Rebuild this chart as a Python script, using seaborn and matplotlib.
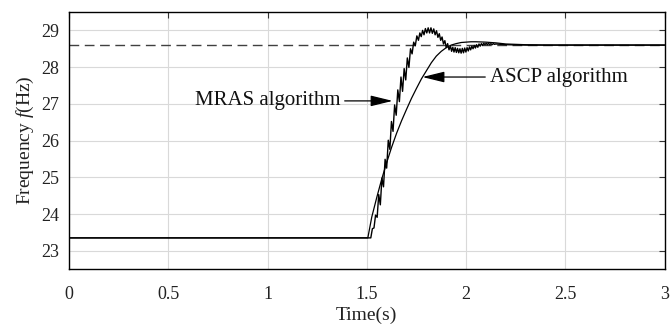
import numpy as np
import pandas as pd
import matplotlib
matplotlib.use("Agg")
import matplotlib.pyplot as plt
import seaborn as sns

# ---------------- data ----------------
ref_level = 28.6          # dashed reference frequency
x_ticks = [0, 0.5, 1, 1.5, 2, 2.5, 3]
x_tick_labels = ["0", "0.5", "1", "1.5", "2", "2.5", "3"]
y_ticks = [23, 24, 25, 26, 27, 28, 29]

ascp_t = [0.0, 1.500, 1.505, 1.525, 1.550, 1.575, 1.600, 1.625, 1.650, 1.675,
          1.700, 1.725, 1.750, 1.775, 1.800, 1.825, 1.850, 1.875, 1.900,
          1.925, 1.950, 1.975, 2.000, 2.025, 2.050, 2.100, 2.150, 2.200,
          2.300, 2.400, 3.0]
ascp_f = [23.35, 23.35, 23.35, 23.92, 24.45, 24.95, 25.40, 25.82, 26.20, 26.54,
          26.85, 27.15, 27.42, 27.68, 27.90, 28.12, 28.30, 28.43, 28.53,
          28.60, 28.64, 28.67, 28.68, 28.69, 28.69, 28.68, 28.66, 28.63,
          28.61, 28.60, 28.60]

mras_t = [0.0, 1.520, 1.528, 1.536, 1.544, 1.552, 1.560, 1.568, 1.576, 1.584,
          1.592, 1.600, 1.608, 1.616, 1.624, 1.632, 1.640, 1.648, 1.656,
          1.664, 1.672, 1.680, 1.688, 1.696, 1.704, 1.712, 1.720, 1.728,
          1.736, 1.744, 1.752, 1.760,
          1.767, 1.774, 1.781, 1.788, 1.795, 1.802, 1.809, 1.816, 1.823,
          1.830, 1.837, 1.844, 1.851, 1.858, 1.865, 1.872, 1.879, 1.886,
          1.893, 1.900, 1.907, 1.914, 1.921,
          1.927, 1.933, 1.939, 1.945, 1.951, 1.957, 1.963, 1.969, 1.975,
          1.981, 1.987, 1.993, 1.999, 2.005, 2.011, 2.017, 2.023, 2.029,
          2.035, 2.041, 2.047, 2.053, 2.059, 2.065, 2.071, 2.077, 2.083,
          2.089, 2.095, 2.101, 2.107, 2.113, 2.119, 2.125, 2.131, 2.137,
          2.143, 2.150, 2.200, 2.300, 3.0]
mras_f = [23.35, 23.35, 23.60, 23.62, 23.97, 23.91, 24.53, 24.25, 24.98, 24.74,
          25.49, 25.25, 26.01, 25.76, 26.52, 26.25, 26.97, 26.69, 27.38,
          27.06, 27.73, 27.34, 27.96, 27.65, 28.25, 27.99, 28.50, 28.36,
          28.68, 28.58, 28.85, 28.73,
          28.93, 28.83, 29.00, 28.88, 29.05, 28.93, 29.07, 28.93, 29.07,
          28.92, 29.04, 28.88, 28.99, 28.81, 28.91, 28.73, 28.82, 28.63,
          28.72, 28.53, 28.64, 28.47, 28.58,
          28.43, 28.54, 28.41, 28.53, 28.40, 28.51, 28.39, 28.50, 28.38,
          28.51, 28.39, 28.52, 28.41, 28.53, 28.44, 28.55, 28.47, 28.57,
          28.50, 28.59, 28.52, 28.61, 28.54, 28.63, 28.57, 28.64, 28.59,
          28.65, 28.61, 28.65, 28.61, 28.65, 28.61, 28.64, 28.61, 28.64,
          28.62, 28.63, 28.61, 28.60, 28.60]

ascp = pd.DataFrame({"t": ascp_t, "f": ascp_f})
mras = pd.DataFrame({"t": mras_t, "f": mras_f})

# ---------------- style ----------------
sns.set_style("white")
plt.rcParams["font.family"] = ["Liberation Serif", "DejaVu Serif"]
plt.rcParams["mathtext.fontset"] = "custom"
plt.rcParams["mathtext.it"] = "Liberation Serif:italic"
plt.rcParams["mathtext.rm"] = "Liberation Serif"

fig = plt.figure(figsize=(6.7, 3.25), dpi=100)
ax = fig.add_axes([0.103, 0.172, 0.889, 0.791])

ax.axhline(ref_level, color="#404040", lw=1.0, ls=(0, (7, 4)), zorder=2)
sns.lineplot(data=ascp, x="t", y="f", ax=ax, color="black", lw=0.9,
             estimator=None, sort=False, zorder=3)
sns.lineplot(data=mras, x="t", y="f", ax=ax, color="black", lw=1.0,
             estimator=None, sort=False, zorder=4)

ax.set_xlim(0, 3)
ax.set_ylim(22.5, 29.5)
ax.set_xticks(x_ticks)
ax.set_xticklabels(x_tick_labels)
ax.set_yticks(y_ticks)
ax.grid(True, color="#d9d9d9", lw=0.8)
ax.set_axisbelow(True)
for s in ax.spines.values():
    s.set_color("black")
    s.set_linewidth(1.0)
ax.tick_params(direction="in", length=4, width=0.8, top=True, right=True,
               labelsize=13, color="#333333", labelcolor="#222222")
ax.tick_params(axis="x", pad=12)
ax.tick_params(axis="y", pad=7)

ax.set_xlabel("Time(s)", fontsize=14, labelpad=3, color="#222222")
ax.set_ylabel(r"Frequency $f$(Hz)", fontsize=14, labelpad=4, color="#222222")

arrow = dict(arrowstyle="-|>,head_length=0.9,head_width=0.22", color="black",
             lw=0.9, shrinkA=1, shrinkB=0)
ax.annotate("MRAS algorithm", xy=(1.63, 27.08), xytext=(1.365, 27.08),
            ha="right", va="center", fontsize=15, arrowprops=arrow,
            color="#111111")
ax.annotate("ASCP algorithm", xy=(1.78, 27.73), xytext=(2.12, 27.73),
            ha="left", va="center", fontsize=15, arrowprops=arrow,
            color="#111111")

fig.savefig("out.png", dpi=100)
